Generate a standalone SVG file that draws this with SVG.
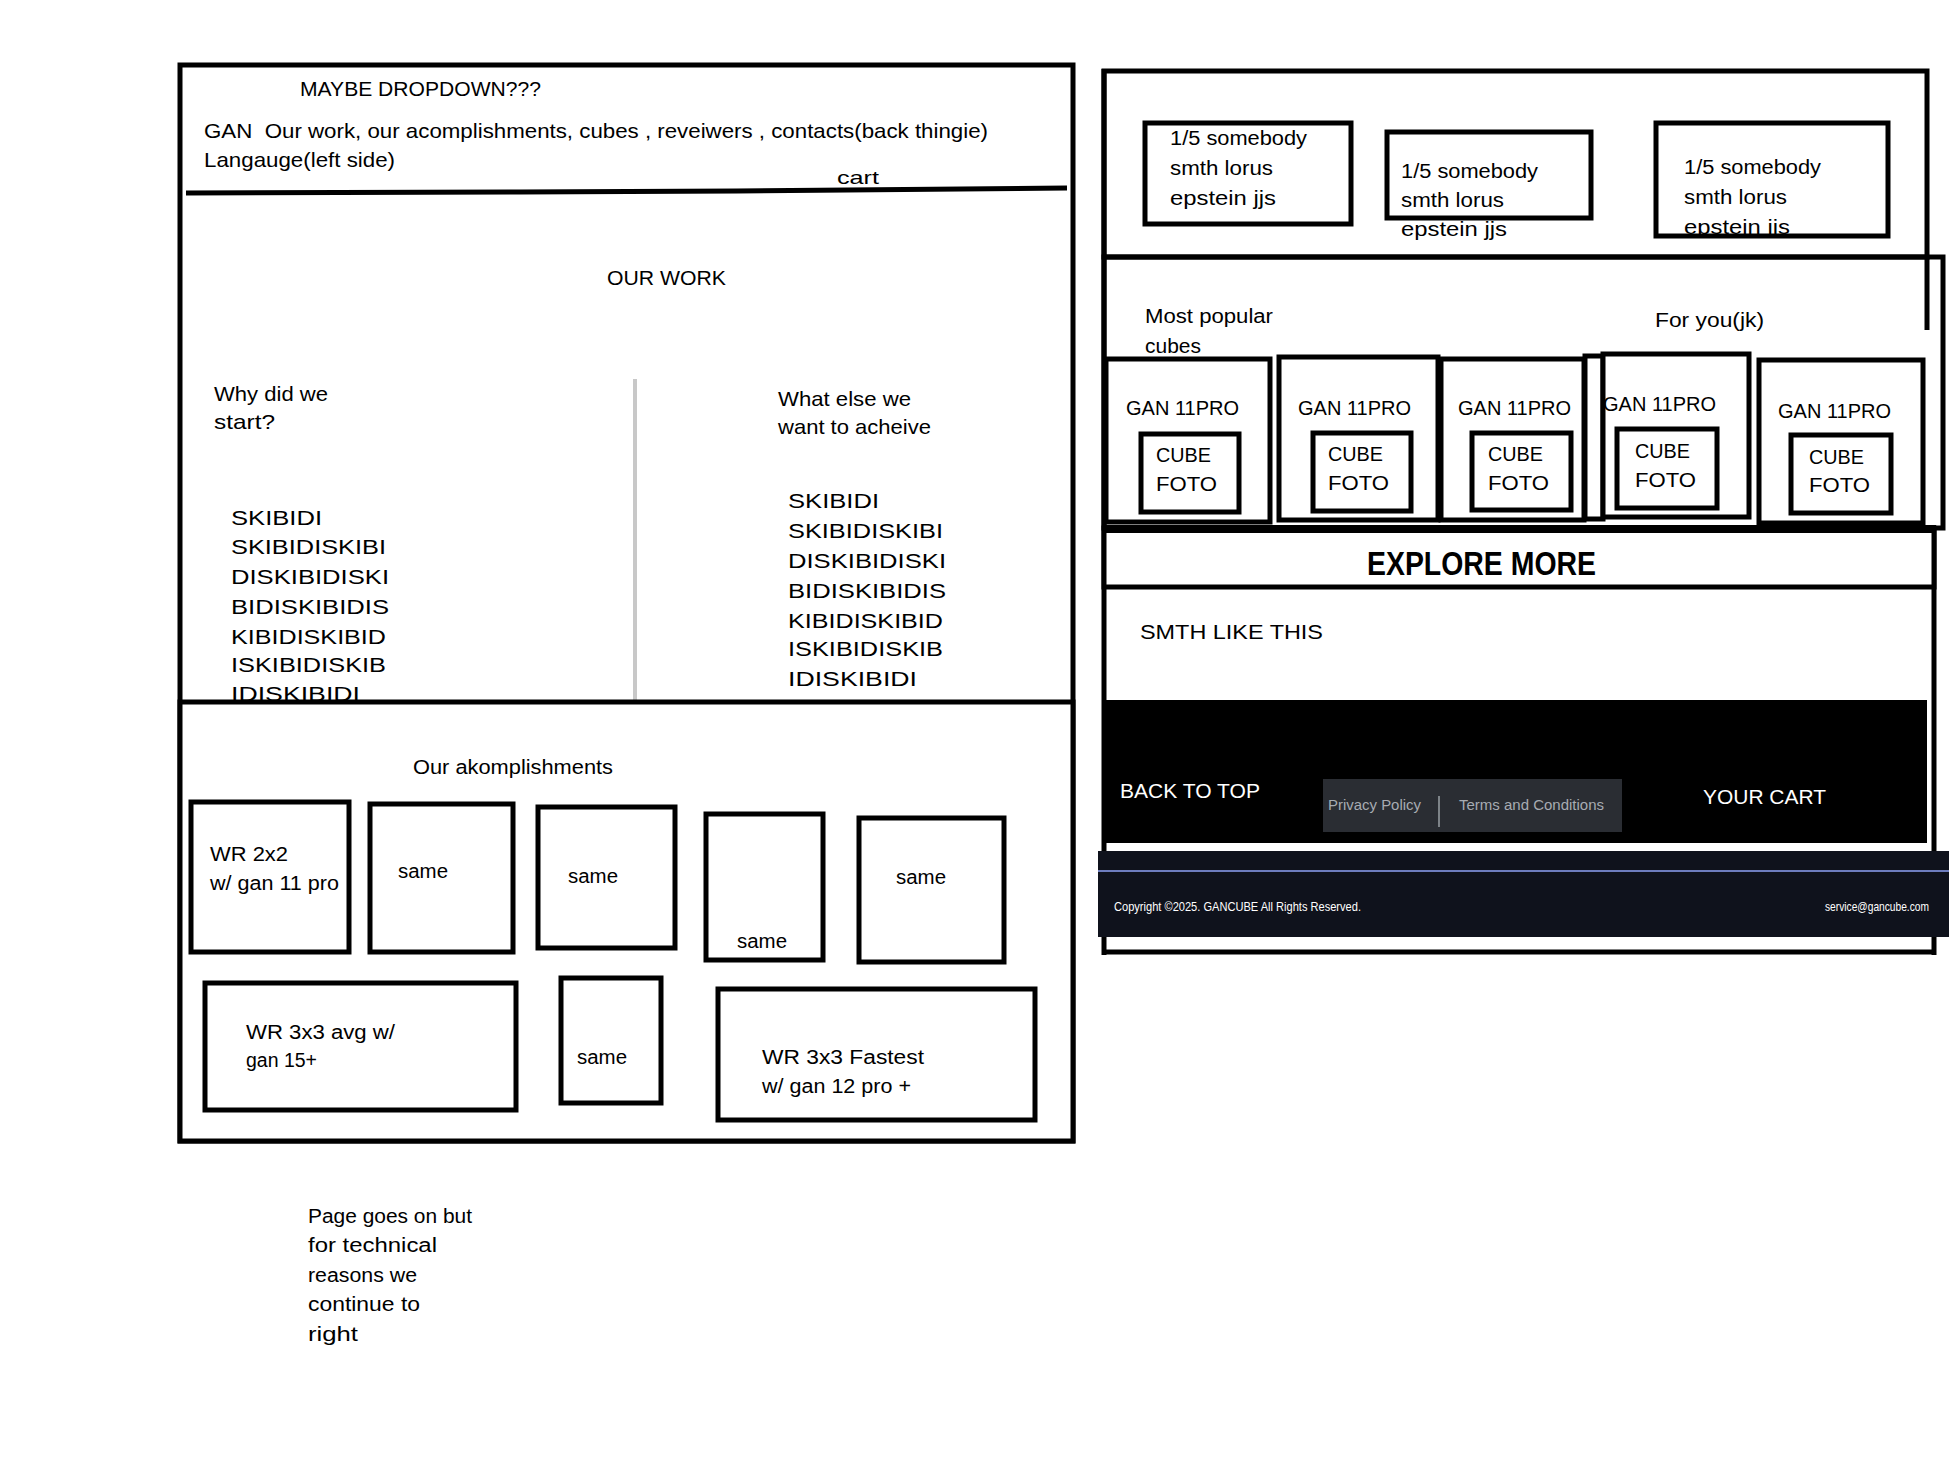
<svg xmlns="http://www.w3.org/2000/svg" width="1949" height="1459" viewBox="0 0 1949 1459">
<style>
.t{font-family:"Comic Sans MS","Liberation Sans",sans-serif;font-size:21px;fill:#000}
.s{font-size:20px}
.b{fill:#fff;stroke:#000;stroke-width:5}
.n{fill:none;stroke:#000;stroke-width:5}
.w{fill:#fff}
.x{font-size:34px;font-weight:bold}
.c{font-size:19px}
.g{font-family:"Liberation Sans",sans-serif;font-size:14px;fill:#a7abb2}
.f{font-family:"Liberation Sans",sans-serif;font-size:13px;fill:#fff}
</style>
<rect width="1949" height="1459" fill="#fff"/>

<g id="left-page">
  <rect class="b" x="180" y="65" width="893" height="1076"/>
  <g id="header">
    <text class="t" x="300" y="96" textLength="241" lengthAdjust="spacingAndGlyphs">MAYBE DROPDOWN???</text>
    <text class="t" x="204" y="138" textLength="784" lengthAdjust="spacingAndGlyphs">GAN &#160;Our work, our acomplishments, cubes , reveiwers , contacts(back thingie)</text>
    <text class="t" x="204" y="167" textLength="191" lengthAdjust="spacingAndGlyphs">Langauge(left side)</text>
    <text class="t c" x="837" y="184" textLength="42" lengthAdjust="spacingAndGlyphs">cart</text>
    <polyline class="n" points="186,193 520,192 737,191 1067,188"/>
  </g>
  <g id="our-work">
    <text class="t" x="607" y="285" textLength="119" lengthAdjust="spacingAndGlyphs">OUR WORK</text>
    <text class="t" x="214" y="401" textLength="114" lengthAdjust="spacingAndGlyphs">Why did we</text>
    <text class="t" x="214" y="429" textLength="61" lengthAdjust="spacingAndGlyphs">start?</text>
    <line x1="635" y1="379" x2="635" y2="700" stroke="#c8c8c8" stroke-width="4"/>
    <text class="t" x="778" y="406" textLength="133" lengthAdjust="spacingAndGlyphs">What else we</text>
    <text class="t" x="778" y="434" textLength="153" lengthAdjust="spacingAndGlyphs">want to acheive</text>
    <g class="t s">
      <text x="231" y="525" textLength="91" lengthAdjust="spacingAndGlyphs">SKIBIDI</text>
      <text x="231" y="554" textLength="155" lengthAdjust="spacingAndGlyphs">SKIBIDISKIBI</text>
      <text x="231" y="584" textLength="158" lengthAdjust="spacingAndGlyphs">DISKIBIDISKI</text>
      <text x="231" y="614" textLength="158" lengthAdjust="spacingAndGlyphs">BIDISKIBIDIS</text>
      <text x="231" y="644" textLength="155" lengthAdjust="spacingAndGlyphs">KIBIDISKIBID</text>
      <text x="231" y="672" textLength="155" lengthAdjust="spacingAndGlyphs">ISKIBIDISKIB</text>
      <text x="231" y="701" textLength="129" lengthAdjust="spacingAndGlyphs">IDISKIBIDI</text>
      <text x="788" y="508" textLength="91" lengthAdjust="spacingAndGlyphs">SKIBIDI</text>
      <text x="788" y="538" textLength="155" lengthAdjust="spacingAndGlyphs">SKIBIDISKIBI</text>
      <text x="788" y="568" textLength="158" lengthAdjust="spacingAndGlyphs">DISKIBIDISKI</text>
      <text x="788" y="598" textLength="158" lengthAdjust="spacingAndGlyphs">BIDISKIBIDIS</text>
      <text x="788" y="628" textLength="155" lengthAdjust="spacingAndGlyphs">KIBIDISKIBID</text>
      <text x="788" y="656" textLength="155" lengthAdjust="spacingAndGlyphs">ISKIBIDISKIB</text>
      <text x="788" y="686" textLength="129" lengthAdjust="spacingAndGlyphs">IDISKIBIDI</text>
    </g>
  </g>
  <g id="accomplishments">
    <rect class="b" x="180" y="702" width="893" height="439"/>
    <text class="t s" x="413" y="774" textLength="200" lengthAdjust="spacingAndGlyphs">Our akomplishments</text>
    <g id="acc1"><rect class="b" x="191" y="802" width="158" height="150"/><text class="t s" x="210" y="861" textLength="78" lengthAdjust="spacingAndGlyphs">WR 2x2</text><text class="t s" x="210" y="890" textLength="129" lengthAdjust="spacingAndGlyphs">w/ gan 11 pro</text></g>
    <g id="acc2"><rect class="b" x="370" y="804" width="143" height="148"/><text class="t s" x="398" y="878" textLength="50" lengthAdjust="spacingAndGlyphs">same</text></g>
    <g id="acc3"><rect class="b" x="538" y="807" width="137" height="141"/><text class="t s" x="568" y="883" textLength="50" lengthAdjust="spacingAndGlyphs">same</text></g>
    <g id="acc4"><rect class="b" x="706" y="814" width="117" height="146"/><text class="t s" x="737" y="948" textLength="50" lengthAdjust="spacingAndGlyphs">same</text></g>
    <g id="acc5"><rect class="b" x="859" y="818" width="145" height="144"/><text class="t s" x="896" y="884" textLength="50" lengthAdjust="spacingAndGlyphs">same</text></g>
    <g id="acc6"><rect class="b" x="205" y="983" width="311" height="127"/><text class="t s" x="246" y="1039" textLength="149" lengthAdjust="spacingAndGlyphs">WR 3x3 avg w/</text><text class="t s" x="246" y="1067" textLength="71" lengthAdjust="spacingAndGlyphs">gan 15+</text></g>
    <g id="acc7"><rect class="b" x="561" y="978" width="100" height="125"/><text class="t s" x="577" y="1064" textLength="50" lengthAdjust="spacingAndGlyphs">same</text></g>
    <g id="acc8"><rect class="b" x="718" y="989" width="317" height="131"/><text class="t s" x="762" y="1064" textLength="162" lengthAdjust="spacingAndGlyphs">WR 3x3 Fastest</text><text class="t s" x="762" y="1093" textLength="149" lengthAdjust="spacingAndGlyphs">w/ gan 12 pro +</text></g>
  </g>
</g>

<g id="note" class="t s">
  <text x="308" y="1223" textLength="164" lengthAdjust="spacingAndGlyphs">Page goes on but</text>
  <text x="308" y="1252" textLength="129" lengthAdjust="spacingAndGlyphs">for technical</text>
  <text x="308" y="1282" textLength="109" lengthAdjust="spacingAndGlyphs">reasons we</text>
  <text x="308" y="1311" textLength="112" lengthAdjust="spacingAndGlyphs">continue to</text>
  <text x="308" y="1341" textLength="50" lengthAdjust="spacingAndGlyphs">right</text>
</g>

<g id="right-page">
  <line class="n" x1="1104" y1="69" x2="1104" y2="955"/>
  <line class="n" x1="1934" y1="528" x2="1934" y2="955"/>
  <line class="n" x1="1102" y1="952" x2="1936" y2="952"/>
  <g id="reviews">
    <rect class="n" x="1104" y="71" width="823" height="186"/>
    <g id="rev1"><text class="t s" x="1170" y="145" textLength="137" lengthAdjust="spacingAndGlyphs">1/5 somebody</text><text class="t s" x="1170" y="175" textLength="103" lengthAdjust="spacingAndGlyphs">smth lorus</text><text class="t s" x="1170" y="205" textLength="106" lengthAdjust="spacingAndGlyphs">epstein jjs</text><rect class="n" x="1145" y="123" width="206" height="101"/></g>
    <g id="rev2"><text class="t s" x="1401" y="178" textLength="137" lengthAdjust="spacingAndGlyphs">1/5 somebody</text><text class="t s" x="1401" y="207" textLength="103" lengthAdjust="spacingAndGlyphs">smth lorus</text><text class="t s" x="1401" y="236" textLength="106" lengthAdjust="spacingAndGlyphs">epstein jjs</text><rect class="n" x="1387" y="132" width="204" height="86"/></g>
    <g id="rev3"><text class="t s" x="1684" y="174" textLength="137" lengthAdjust="spacingAndGlyphs">1/5 somebody</text><text class="t s" x="1684" y="204" textLength="103" lengthAdjust="spacingAndGlyphs">smth lorus</text><text class="t s" x="1684" y="234" textLength="106" lengthAdjust="spacingAndGlyphs">epstein jjs</text><rect class="n" x="1656" y="123" width="232" height="113"/></g>
  </g>
  <g id="cubes">
    <rect class="n" x="1104" y="257" width="839" height="271"/>
    <line class="n" x1="1927" y1="257" x2="1927" y2="330"/>
    <text class="t s" x="1145" y="323" textLength="128" lengthAdjust="spacingAndGlyphs">Most popular</text>
    <text class="t s" x="1145" y="353" textLength="56" lengthAdjust="spacingAndGlyphs">cubes</text>
    <text class="t s" x="1655" y="327" textLength="109" lengthAdjust="spacingAndGlyphs">For you(jk)</text>
    <g id="cube1"><rect class="b" x="1106" y="359" width="164" height="163"/><text class="t" x="1126" y="415" textLength="113" lengthAdjust="spacingAndGlyphs">GAN 11PRO</text><rect class="n" x="1141" y="434" width="98" height="78"/><text class="t" x="1156" y="462" textLength="55" lengthAdjust="spacingAndGlyphs">CUBE</text><text class="t" x="1156" y="491" textLength="61" lengthAdjust="spacingAndGlyphs">FOTO</text></g>
    <g id="cube2"><rect class="b" x="1279" y="357" width="159" height="163"/><text class="t" x="1298" y="415" textLength="113" lengthAdjust="spacingAndGlyphs">GAN 11PRO</text><rect class="n" x="1313" y="433" width="98" height="78"/><text class="t" x="1328" y="461" textLength="55" lengthAdjust="spacingAndGlyphs">CUBE</text><text class="t" x="1328" y="490" textLength="61" lengthAdjust="spacingAndGlyphs">FOTO</text></g>
    <g id="cube3"><rect class="b" x="1441" y="359" width="143" height="161"/><text class="t" x="1458" y="415" textLength="113" lengthAdjust="spacingAndGlyphs">GAN 11PRO</text><rect class="n" x="1472" y="433" width="99" height="77"/><text class="t" x="1488" y="461" textLength="55" lengthAdjust="spacingAndGlyphs">CUBE</text><text class="t" x="1488" y="490" textLength="61" lengthAdjust="spacingAndGlyphs">FOTO</text></g>
    <g id="cube4"><rect class="b" x="1585" y="356" width="18" height="163"/><rect class="b" x="1603" y="354" width="146" height="163"/><text class="t" x="1603" y="411" textLength="113" lengthAdjust="spacingAndGlyphs">GAN 11PRO</text><rect class="n" x="1617" y="429" width="100" height="79"/><text class="t" x="1635" y="458" textLength="55" lengthAdjust="spacingAndGlyphs">CUBE</text><text class="t" x="1635" y="487" textLength="61" lengthAdjust="spacingAndGlyphs">FOTO</text></g>
    <g id="cube5"><rect class="b" x="1759" y="360" width="164" height="163"/><text class="t" x="1778" y="418" textLength="113" lengthAdjust="spacingAndGlyphs">GAN 11PRO</text><rect class="n" x="1791" y="435" width="100" height="78"/><text class="t" x="1809" y="464" textLength="55" lengthAdjust="spacingAndGlyphs">CUBE</text><text class="t" x="1809" y="492" textLength="61" lengthAdjust="spacingAndGlyphs">FOTO</text></g>
  </g>
  <g id="explore">
    <rect x="1104" y="528" width="830" height="59" fill="#fff" stroke="#000" stroke-width="5"/>
    <line x1="1102" y1="529" x2="1936" y2="529" stroke="#000" stroke-width="8"/>
    <text class="t x" x="1367" y="575" textLength="229" lengthAdjust="spacingAndGlyphs">EXPLORE MORE</text>
  </g>
  <g id="smth">
    <text class="t" x="1140" y="639" textLength="183" lengthAdjust="spacingAndGlyphs">SMTH LIKE THIS</text>
  </g>
  <g id="footer">
    <rect x="1104" y="700" width="823" height="143" fill="#000"/>
    <text class="t w" x="1120" y="798" textLength="140" lengthAdjust="spacingAndGlyphs">BACK TO TOP</text>
    <rect x="1323" y="779" width="299" height="53" fill="#2a2d33"/>
    <text class="g" x="1328" y="810" textLength="93" lengthAdjust="spacingAndGlyphs">Privacy Policy</text>
    <line x1="1439" y1="796" x2="1439" y2="827" stroke="#9aa0a6" stroke-width="1.5"/>
    <text class="g" x="1459" y="810" textLength="145" lengthAdjust="spacingAndGlyphs">Terms and Conditions</text>
    <text class="t w" x="1703" y="804" textLength="123" lengthAdjust="spacingAndGlyphs">YOUR CART</text>
  </g>
  <g id="copyright">
    <rect x="1098" y="851" width="851" height="86" fill="#0f121c"/>
    <line x1="1098" y1="871" x2="1949" y2="871" stroke="#8ea2f5" stroke-width="1.5"/>
    <text class="f" x="1114" y="911" textLength="247" lengthAdjust="spacingAndGlyphs">Copyright ©2025. GANCUBE All Rights Reserved.</text>
    <text class="f" x="1929" y="911" text-anchor="end" textLength="104" lengthAdjust="spacingAndGlyphs">service@gancube.com</text>
  </g>
</g>
</svg>
